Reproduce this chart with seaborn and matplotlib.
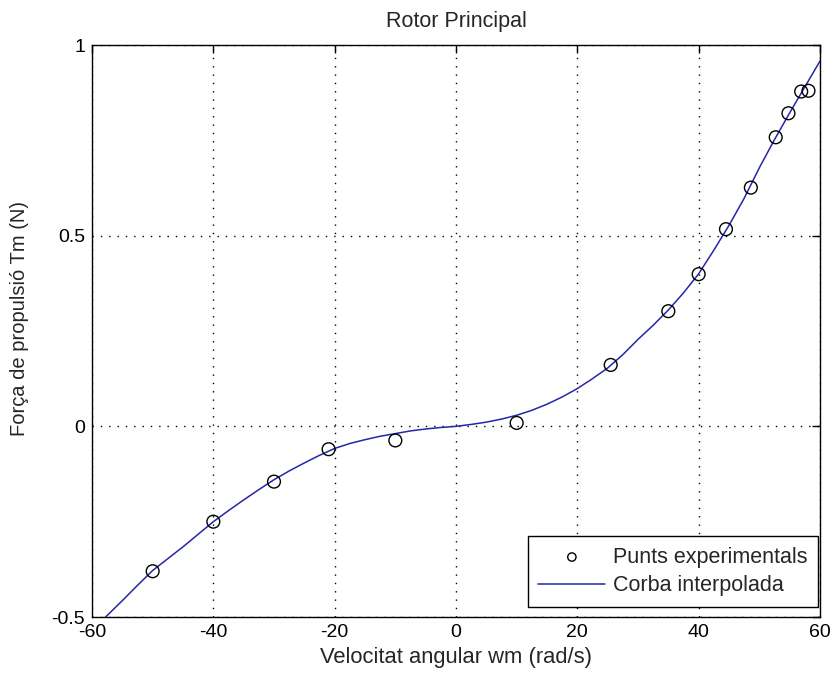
import numpy as np
import pandas as pd
import matplotlib
matplotlib.use("Agg")
import matplotlib.pyplot as plt
import seaborn as sns

# Experimental points
punts_x = [-50, -40, -30, -21, -10, 10, 25.5, 35, 40, 44.5, 48.6, 52.7, 54.8, 56.9, 58.1]
punts_y = [-0.38, -0.25, -0.145, -0.06, -0.037, 0.009, 0.161, 0.302, 0.399, 0.517, 0.626, 0.758, 0.821, 0.878, 0.880]

# Interpolated curve
corba_x = [-60, -57.5, -55, -52.5, -50, -47.5, -45, -42.5, -40, -37.5, -35, -32.5,
           -30, -27.5, -25, -22.5, -20, -17.5, -15, -12.5, -10, -7.5, -5, -2.5, 0,
           2.5, 5, 7.5, 10, 12.5, 15, 17.5, 20, 22.5, 25, 27.5, 30, 32.5, 35,
           37.5, 40, 42.5, 45, 47.5, 50, 52.5, 55, 57.5, 60]
corba_y = [-0.535, -0.496, -0.457, -0.417, -0.378, -0.347, -0.316, -0.283, -0.250,
           -0.221, -0.193, -0.166, -0.140, -0.117, -0.096, -0.076, -0.058, -0.045,
           -0.035, -0.026, -0.019, -0.012, -0.007, -0.003, 0.0, 0.005, 0.011, 0.019,
           0.029, 0.042, 0.058, 0.077, 0.099, 0.125, 0.153, 0.188, 0.228, 0.265,
           0.305, 0.350, 0.400, 0.462, 0.527, 0.598, 0.678, 0.752, 0.822, 0.890, 0.958]

xticks = [-60, -40, -20, 0, 20, 40, 60]
yticks = [-0.5, 0, 0.5, 1]
ytick_labels = ["-0.5", "0", "0.5", "1"]

sns.set_style("white")
plt.rcParams["font.family"] = ["Liberation Sans", "DejaVu Sans"]
plt.rcParams["axes.unicode_minus"] = False

fig = plt.figure(figsize=(8.31, 6.79), dpi=100)
ax = fig.add_axes([92/831, 62/679, 728/831, 572/679])

df_c = pd.DataFrame({"x": corba_x, "y": corba_y})
df_p = pd.DataFrame({"x": punts_x, "y": punts_y})

sns.scatterplot(data=df_p, x="x", y="y", ax=ax, marker="o", s=85,
                facecolors="none", edgecolor="black", linewidth=1.0,
                label="Punts experimentals", zorder=3)
sns.lineplot(data=df_c, x="x", y="y", ax=ax, color="#2626a8", linewidth=1.1,
             label="Corba interpolada", zorder=2, sort=False)

ax.set_xlim(-60, 60)
ax.set_ylim(-0.5, 1)
ax.set_xticks(xticks)
ax.set_yticks(yticks)
ax.set_yticklabels(ytick_labels)
ax.grid(True, linestyle=(0, (1, 5)), color="black", linewidth=1.0)
for s in ax.spines.values():
    s.set_visible(True)
    s.set_color("black")
    s.set_linewidth(1.0)
ax.tick_params(direction="in", length=6, width=1, top=True, right=True,
               labelsize=14, pad=5, colors="black")

ax.set_xlabel("Velocitat angular wm (rad/s)", fontsize=15.8, labelpad=4)
ax.set_ylabel("Força de propulsió Tm (N)", fontsize=14.5)
ax.yaxis.set_label_coords(-0.0865, 0.521)
ax.set_title("Rotor Principal", fontsize=15.5, pad=13)

leg = ax.legend(loc="lower right", bbox_to_anchor=(0.9973, 0.0175),
                borderaxespad=0, fontsize=15.5, frameon=True, fancybox=False,
                edgecolor="black", framealpha=1,
                handlelength=3.1, borderpad=0.5, labelspacing=0.35,
                handletextpad=0.35, markerscale=0.65)
leg.get_frame().set_linewidth(1.0)

fig.savefig("out.png", dpi=100)
